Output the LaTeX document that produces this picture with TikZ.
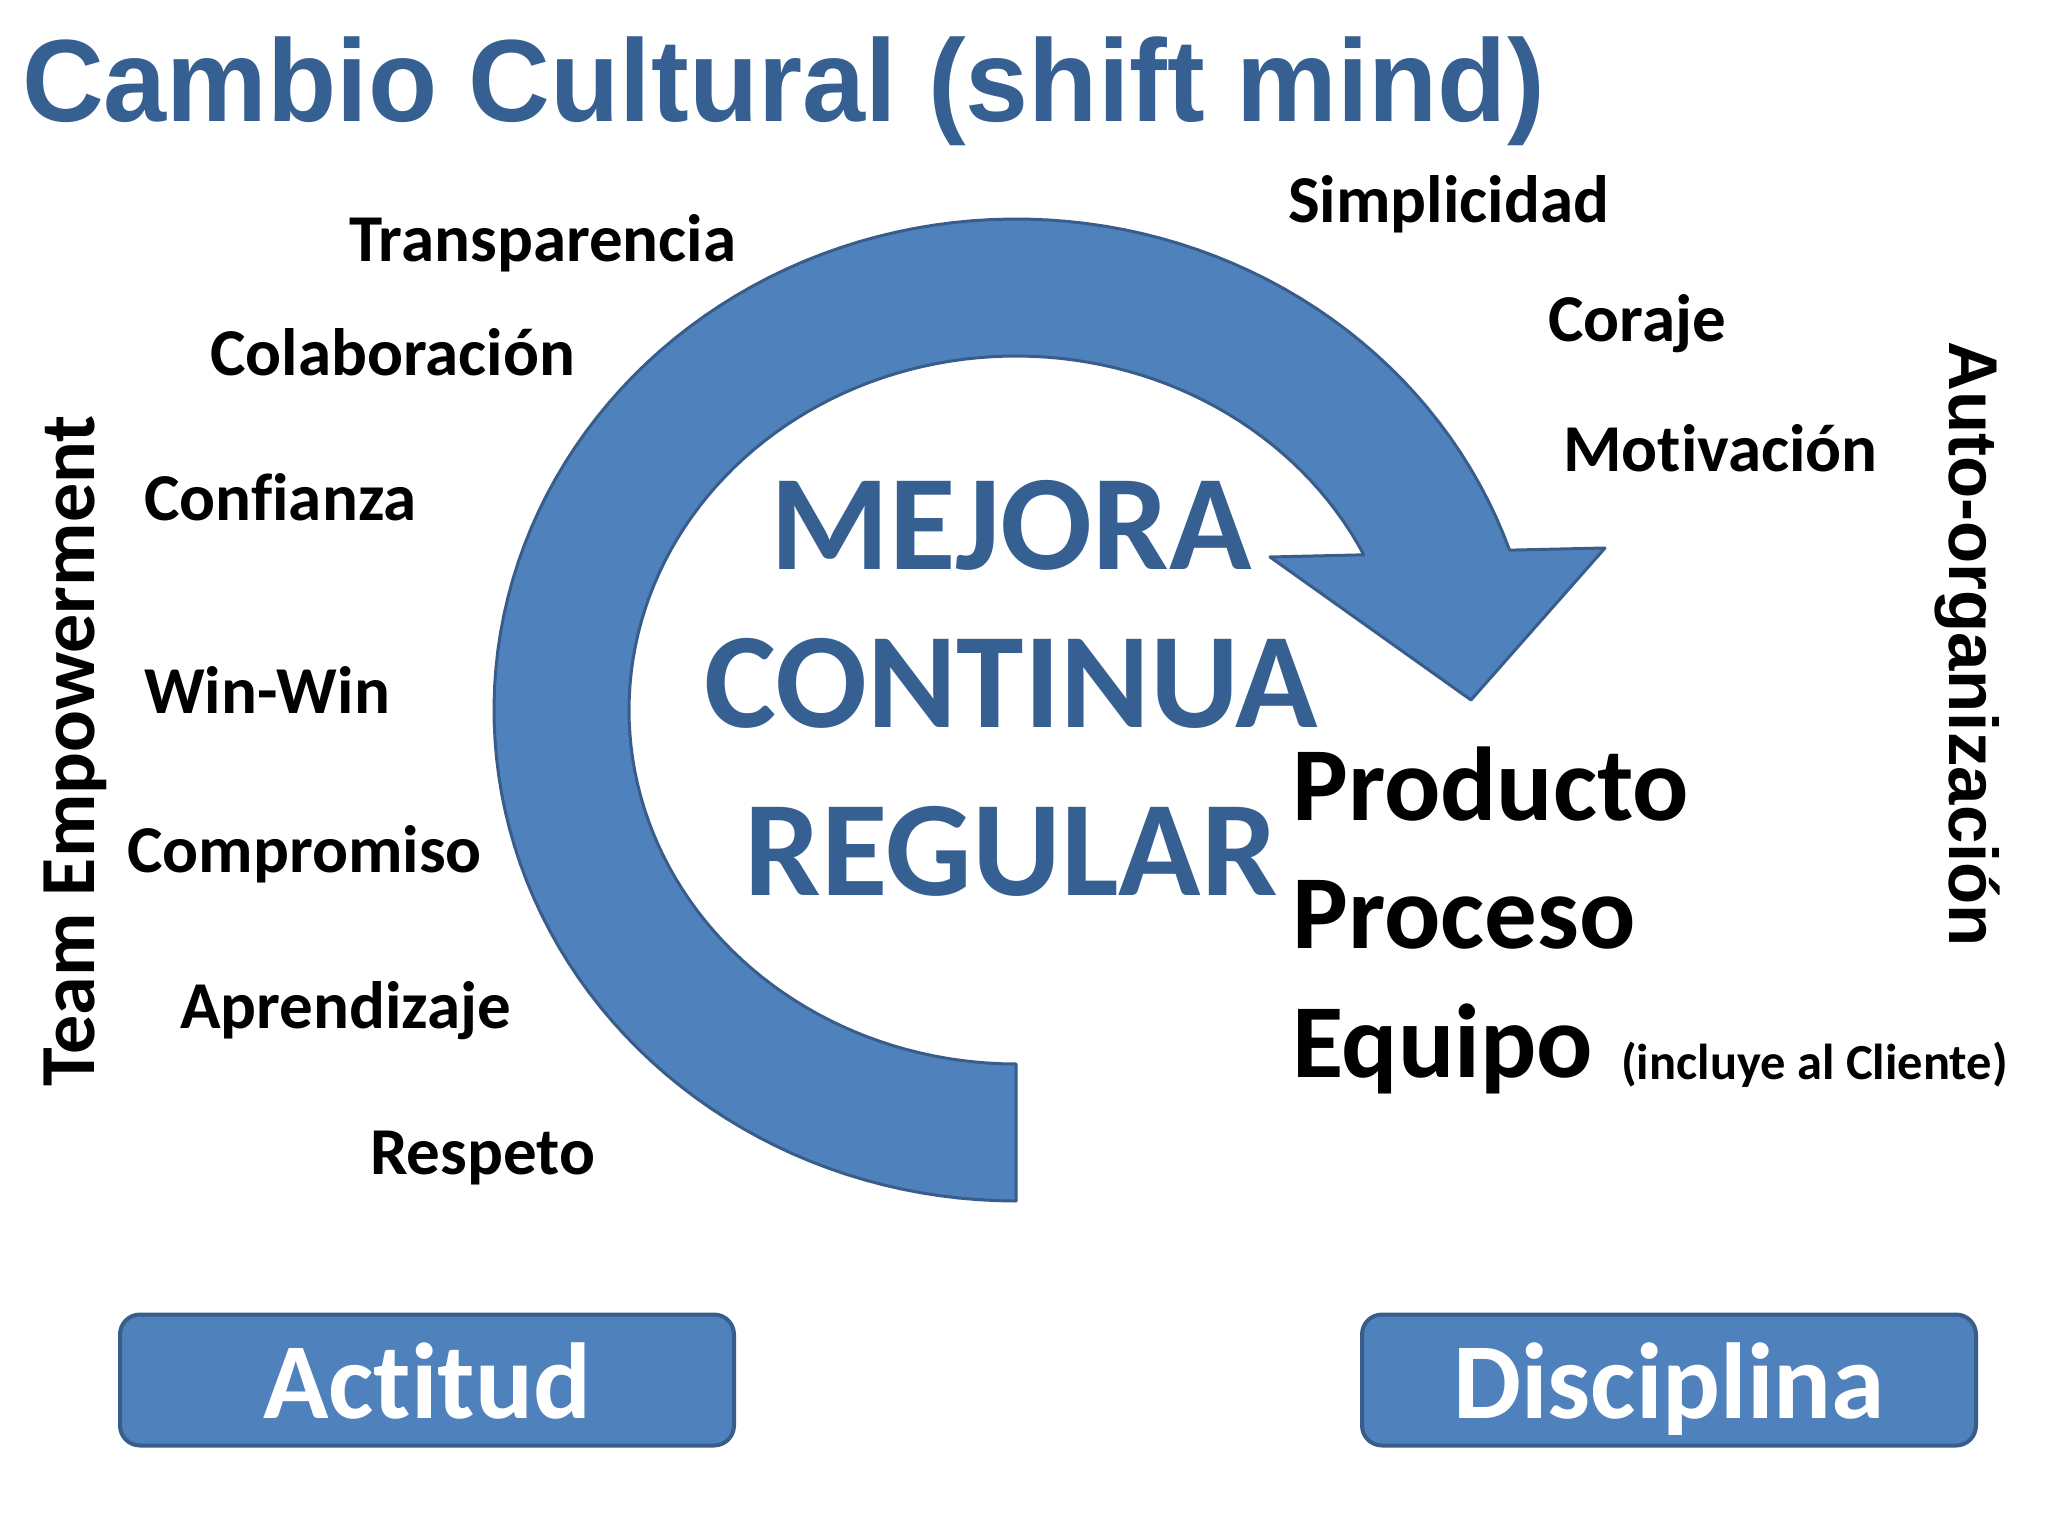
\documentclass[tikz,border=0pt]{standalone}
\usepackage{fontspec}
\setmainfont{Carlito}[Ligatures=NoCommon]
\newfontfamily\arial{Liberation Sans}[Ligatures=NoCommon]
\definecolor{arrowfill}{RGB}{79,129,189}
\definecolor{arrowline}{RGB}{56,93,138}
\definecolor{textblue}{RGB}{55,96,146}
\tikzset{
  word/.style={anchor=base west, inner sep=0pt, font=\bfseries\fontsize{67}{80}\selectfont},
  bigword/.style={anchor=base, inner sep=0pt, text=textblue, font=\bfseries\fontsize{136}{160}\selectfont},
  ppword/.style={anchor=base west, inner sep=0pt, font=\bfseries\fontsize{105}{120}\selectfont},
  bluebox/.style={draw=arrowline, fill=arrowfill, line width=4pt, rounded corners=20pt,
    minimum width=614pt, minimum height=131pt, inner sep=0pt, text=white,
    text height=76pt, text depth=0pt,
    font=\bfseries\fontsize{108}{120}\selectfont}
}
\begin{document}
\begin{tikzpicture}[x=1pt,y=-1pt]
\useasboundingbox (0,0) rectangle (2048,1536);
\fill[white] (0,0) rectangle (2048,1536);
% title
\node[anchor=base west, inner sep=0pt, text=textblue, font=\arial\bfseries\fontsize{117}{130}\selectfont] (title) at (22,122) {\scalebox{0.968}[1]{Cambio Cultural (shift mind)}};
% circular arrow
\filldraw[fill=arrowfill, draw=arrowline, line width=3pt, line join=round]
  plot[domain=90:341, samples=120] ({1016+522*cos(\x)},{710+491*sin(\x)})
  -- (1605,548) -- (1471,700) -- (1270,557)
  -- plot[domain=334:90, samples=120] ({1016+387*cos(\x)},{710+354*sin(\x)})
  -- cycle;
% center text
\node[bigword] (mejora) at (1011,569) {MEJORA};
\node[bigword] (continua) at (1011,727) {CONTINUA};
\node[bigword] (regular) at (1011,895) {REGULAR};
% left values
\node[word] (transp) at (349,261) {Transparencia};
\node[word] (colab) at (210,375) {Colaboración};
\node[word] (confi) at (144,520) {Confianza};
\node[word] (winwin) at (144,713) {Win-Win};
\node[word] (compro) at (127,872) {Compromiso};
\node[word] (aprend) at (180,1028) {Aprendizaje};
\node[word] (respeto) at (370,1174) {Respeto};
% right values
\node[word] (simpli) at (1288,222) {Simplicidad};
\node[word] (coraje) at (1548,341) {Coraje};
\node[word] (motiv) at (1563,471) {Motivación};
% producto proceso equipo
\node[ppword] (producto) at (1292,820) {Producto};
\node[ppword] (proceso) at (1292,948) {Proceso};
\node[ppword] (equipo) at (1292,1077) {Equipo};
\node[anchor=base west, inner sep=0pt, font=\bfseries\fontsize{50.5}{60}\selectfont] (cliente) at (1621,1079) {(incluye al Cliente)};
% vertical labels
\node[anchor=base, inner sep=0pt, rotate=90, font=\bfseries\fontsize{78}{90}\selectfont] (team) at (94,751) {Team Empowerment};
\node[anchor=base, inner sep=0pt, rotate=-90, font=\arial\bfseries\fontsize{69}{80}\selectfont] (auto) at (1949,644) {Auto-organización};
% boxes
\node[bluebox] (actitud) at (427,1380) {Actitud};
\node[bluebox] (disciplina) at (1669,1380) {Disciplina};
\end{tikzpicture}
\end{document}
